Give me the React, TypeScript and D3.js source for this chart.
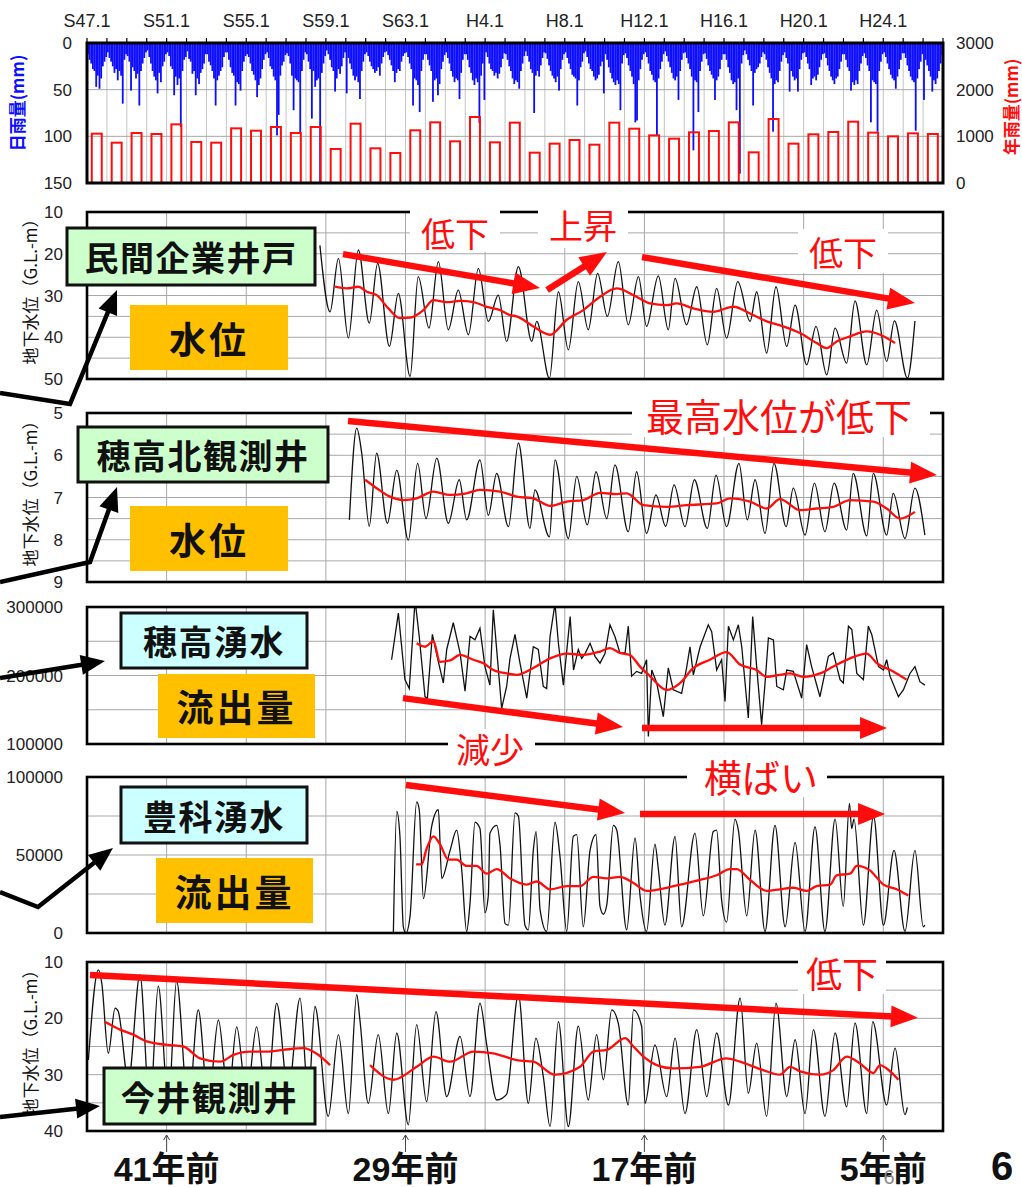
import React from 'react';
import * as d3 from 'd3';

const JP = "'Noto Sans CJK JP', 'Noto Sans', sans-serif";
const LAT = "'Liberation Sans', Arial, 'Noto Sans CJK JP', sans-serif";

// ---- top axis (era labels every 4 years) ----
const eraYears = [1972, 1976, 1980, 1984, 1988, 1992, 1996, 2000, 2004, 2008, 2012];
const eraLabels = ['S47.1', 'S51.1', 'S55.1', 'S59.1', 'S63.1', 'H4.1', 'H8.1', 'H12.1', 'H16.1', 'H20.1', 'H24.1'];

// ---- annual rainfall (mm), 1972-2014 ----
const annualYears = d3.range(1972, 2015);
const annualRain = [1057, 864, 1071, 1050, 1257, 879, 864, 1171, 1121, 1200, 1071, 1200, 729, 1271, 743, 643, 1129, 1300, 893, 1414, 871, 1293,
  650, 843, 921, 821, 1293, 1164, 1021, 950, 1086, 1114, 1300, 657, 1371, 843, 1043, 1093, 1314, 1079, 1000, 1064, 1050];

// ---- largest daily rainfall of each month (mm), Jan..Dec, 1972-2014 ----
const dailyRainMax = [
  [12, 18, 22, 28, 30, 47, 35, 49, 38, 25, 20, 15],
  [10, 16, 20, 25, 32, 28, 40, 30, 35, 65, 18, 12],
  [14, 20, 51, 26, 30, 38, 33, 67, 30, 22, 16, 10],
  [8, 15, 22, 30, 36, 40, 54, 32, 42, 25, 20, 12],
  [10, 14, 25, 28, 56, 36, 45, 38, 90, 30, 18, 15],
  [9, 17, 20, 33, 30, 56, 38, 44, 32, 28, 22, 12],
  [12, 20, 24, 30, 38, 67, 40, 35, 30, 26, 15, 10],
  [10, 18, 26, 32, 35, 67, 42, 44, 51, 30, 20, 14],
  [12, 15, 22, 30, 34, 40, 58, 45, 38, 28, 18, 12],
  [10, 16, 25, 28, 36, 40, 99, 77, 35, 24, 20, 13],
  [11, 14, 22, 35, 72, 38, 40, 42, 97, 30, 18, 10],
  [12, 20, 28, 81, 30, 47, 40, 38, 149, 32, 22, 14],
  [8, 12, 18, 26, 30, 52, 38, 28, 33, 25, 16, 10],
  [54, 16, 22, 28, 35, 40, 36, 42, 60, 30, 20, 12],
  [10, 14, 20, 25, 28, 32, 30, 26, 35, 22, 15, 10],
  [9, 13, 18, 24, 30, 42, 32, 28, 30, 20, 14, 11],
  [10, 15, 22, 28, 67, 38, 40, 45, 74, 30, 18, 12],
  [12, 18, 24, 30, 63, 40, 38, 56, 44, 28, 20, 13],
  [10, 16, 22, 30, 36, 42, 38, 40, 60, 32, 18, 12],
  [12, 18, 26, 32, 40, 45, 38, 42, 86, 35, 22, 61],
  [10, 15, 22, 28, 30, 35, 32, 38, 33, 26, 17, 11],
  [12, 18, 25, 30, 38, 44, 40, 42, 49, 30, 22, 14],
  [9, 14, 20, 28, 32, 75, 35, 30, 36, 24, 16, 10],
  [11, 17, 24, 30, 35, 38, 42, 36, 51, 28, 18, 12],
  [10, 16, 22, 28, 34, 36, 38, 67, 40, 26, 20, 11],
  [9, 15, 22, 28, 30, 36, 40, 38, 34, 25, 20, 54],
  [12, 18, 26, 32, 38, 42, 45, 40, 44, 72, 22, 13],
  [11, 16, 24, 30, 36, 44, 85, 83, 40, 28, 18, 12],
  [10, 15, 22, 30, 34, 40, 42, 99, 38, 28, 20, 12],
  [9, 14, 20, 26, 32, 38, 40, 36, 61, 30, 18, 11],
  [10, 16, 22, 28, 36, 115, 40, 42, 74, 30, 20, 12],
  [11, 17, 24, 30, 34, 38, 61, 40, 36, 28, 18, 12],
  [12, 18, 26, 32, 40, 44, 42, 72, 38, 140, 22, 13],
  [8, 12, 18, 24, 30, 67, 32, 28, 26, 22, 15, 10],
  [12, 18, 26, 32, 38, 95, 44, 40, 42, 30, 20, 13],
  [10, 16, 22, 52, 30, 36, 40, 38, 52, 28, 18, 11],
  [10, 15, 22, 28, 45, 38, 36, 40, 34, 26, 18, 12],
  [11, 16, 24, 30, 36, 40, 44, 38, 36, 28, 20, 12],
  [12, 18, 26, 30, 51, 42, 45, 40, 44, 30, 22, 14],
  [11, 16, 24, 30, 85, 40, 42, 44, 95, 30, 20, 12],
  [10, 15, 22, 28, 34, 38, 40, 49, 36, 28, 18, 11],
  [11, 16, 24, 30, 36, 40, 42, 94, 38, 28, 20, 12],
  [61, 18, 24, 30, 36, 52, 40, 44, 38, 30, 22, 13],
];

type Pt = [number, number];

// ---- 民間企業井戸: groundwater depth (G.L.-m) ----
const minkanLevel: Pt[] = [
  [1983.70, 18.0], [1984.21, 33.9], [1984.63, 21.1], [1985.13, 40.2], [1985.63, 19.1], [1986.18, 36.6], [1986.60, 22.3], [1987.19, 42.2],
  [1987.64, 29.5], [1988.23, 49.4], [1988.64, 25.5], [1989.18, 37.8], [1989.65, 21.9], [1990.15, 38.2], [1990.65, 28.7], [1991.16, 39.4],
  [1991.66, 23.5], [1992.16, 36.2], [1992.66, 29.9], [1993.08, 41.0], [1993.67, 23.1], [1994.34, 41.0], [1994.59, 36.2], [1995.23, 49.8],
  [1995.68, 29.1], [1996.18, 43.0], [1996.68, 26.7], [1997.18, 38.2], [1997.65, 24.7], [1998.14, 35.0], [1998.69, 21.9], [1999.19, 37.0],
  [1999.70, 25.5], [2000.11, 37.4], [2000.70, 25.3], [2001.20, 38.2], [2001.54, 25.9], [2002.12, 37.0], [2002.63, 27.9], [2003.16, 41.8],
  [2003.63, 28.3], [2004.13, 40.2], [2004.69, 26.7], [2005.31, 36.2], [2005.64, 29.1], [2006.14, 43.8], [2006.61, 27.9], [2007.15, 42.2],
  [2007.57, 32.3], [2008.15, 46.6], [2008.62, 37.4], [2009.16, 49.0], [2009.58, 37.8], [2010.16, 46.2], [2010.58, 31.3], [2011.17, 46.6],
  [2011.67, 33.5], [2012.17, 45.8], [2012.56, 36.1], [2013.21, 49.8], [2013.59, 36.1],
];
const minkanAvg: Pt[] = [
  [1984.46, 27.9], [1985.04, 28.3], [1985.63, 27.9], [1986.05, 29.1], [1986.55, 29.9], [1987.14, 33.1], [1987.72, 35.4], [1988.23, 35.3],
  [1988.90, 33.5], [1989.40, 31.1], [1990.07, 31.6], [1990.74, 31.3], [1991.41, 31.6], [1992.08, 32.7], [1992.75, 33.5], [1993.25, 34.7],
  [1993.58, 35.0], [1994.42, 37.4], [1995.26, 39.4], [1996.10, 35.8], [1996.93, 33.5], [1997.77, 30.3], [1998.61, 28.3], [1999.45, 29.9],
  [2000.28, 31.9], [2001.12, 32.3], [2001.62, 31.9], [2002.46, 33.1], [2003.46, 33.9], [2004.47, 32.7], [2005.31, 34.3], [2006.14, 36.2],
  [2006.98, 37.4], [2007.82, 39.0], [2008.65, 41.4], [2009.16, 42.6], [2009.66, 41.0], [2010.33, 39.8], [2011.17, 38.6], [2011.84, 39.4],
  [2012.59, 41.4],
];

// ---- 穂高北観測井: groundwater depth (G.L.-m) ----
const hotakaKitaLevel: Pt[] = [
  [1985.18, 7.53], [1985.55, 5.36], [1985.80, 5.95], [1986.18, 7.68], [1986.55, 5.95], [1987.09, 7.61], [1987.56, 6.35], [1988.14, 8.01],
  [1988.61, 6.19], [1989.03, 7.50], [1989.57, 6.07], [1990.15, 7.61], [1990.70, 6.58], [1991.07, 7.53], [1991.74, 6.11], [1992.16, 7.42],
  [1992.58, 6.43], [1993.17, 7.69], [1993.67, 5.71], [1994.25, 7.73], [1994.50, 6.82], [1995.23, 7.93], [1995.51, 6.11], [1996.18, 7.97],
  [1996.60, 6.50], [1997.13, 7.65], [1997.57, 6.39], [1998.11, 7.50], [1998.52, 6.23], [1999.19, 7.81], [1999.61, 6.39], [2000.11, 7.85],
  [2000.58, 6.94], [2001.07, 7.68], [2001.49, 6.70], [2002.04, 7.69], [2002.51, 6.58], [2003.16, 7.73], [2003.60, 6.47], [2004.13, 7.69],
  [2004.75, 6.19], [2005.17, 7.53], [2005.56, 6.58], [2006.06, 7.85], [2006.51, 6.19], [2007.12, 7.69], [2007.48, 6.78], [2008.07, 7.89],
  [2008.54, 6.66], [2009.07, 7.81], [2009.53, 6.66], [2010.16, 7.77], [2010.49, 6.43], [2011.17, 7.91], [2011.50, 6.43], [2012.17, 7.89],
  [2012.50, 6.90], [2013.09, 7.97], [2013.59, 6.78], [2014.09, 7.89],
];
const hotakaKitaAvg: Pt[] = [
  [1985.97, 6.58], [1986.55, 6.78], [1987.22, 6.98], [1987.89, 7.06], [1988.56, 7.02], [1989.40, 6.86], [1990.24, 6.94], [1991.07, 6.90],
  [1991.74, 6.82], [1992.75, 6.86], [1993.58, 6.98], [1994.42, 7.02], [1995.26, 7.20], [1996.10, 7.10], [1996.93, 7.06], [1997.77, 6.89],
  [1998.61, 6.92], [1999.11, 6.90], [1999.95, 7.18], [2001.12, 7.22], [2002.12, 7.18], [2003.63, 7.14], [2004.30, 7.02], [2005.31, 7.10],
  [2006.14, 7.26], [2006.81, 7.04], [2007.82, 7.30], [2008.65, 7.26], [2009.49, 7.22], [2010.33, 7.06], [2011.50, 7.10], [2012.17, 7.26],
  [2012.84, 7.50], [2013.59, 7.34],
];

// ---- 穂高湧水: spring discharge ----
const hotakaSpring: Pt[] = [
  [1987.30, 223000], [1987.64, 291000], [1987.97, 194000], [1988.19, 181000], [1988.48, 310000], [1988.69, 257000], [1988.98, 169000],
  [1989.10, 167000], [1989.35, 260000], [1989.57, 230000], [1989.90, 189000], [1990.07, 238000], [1990.40, 277000], [1990.74, 233000],
  [1990.99, 177000], [1991.24, 257000], [1991.49, 252000], [1991.74, 269000], [1991.99, 213000], [1992.24, 186000], [1992.41, 296000],
  [1992.83, 152000], [1993.08, 184000], [1993.25, 225000], [1993.50, 260000], [1993.75, 218000], [1994.09, 167000], [1994.42, 242000],
  [1994.67, 238000], [1994.92, 184000], [1995.09, 181000], [1995.26, 257000], [1995.51, 305000], [1995.68, 247000], [1995.93, 186000],
  [1996.27, 286000], [1996.44, 208000], [1996.68, 238000], [1996.85, 225000], [1997.02, 232000], [1997.27, 247000], [1997.52, 228000],
  [1997.77, 218000], [1998.02, 232000], [1998.27, 274000], [1998.52, 257000], [1998.77, 233000], [1999.03, 233000], [1999.19, 272000],
  [1999.36, 199000], [1999.61, 206000], [1999.86, 203000], [2000.11, 223000], [2000.20, 111000], [2000.37, 208000], [2000.62, 189000],
  [2000.95, 140000], [2001.20, 211000], [2001.45, 179000], [2001.87, 174000], [2002.12, 211000], [2002.29, 242000], [2002.46, 201000],
  [2002.80, 242000], [2003.21, 274000], [2003.38, 264000], [2003.63, 208000], [2003.88, 223000], [2004.05, 162000], [2004.22, 272000],
  [2004.47, 252000], [2004.72, 274000], [2004.89, 242000], [2005.22, 138000], [2005.44, 286000], [2005.64, 213000], [2005.89, 128000],
  [2006.06, 189000], [2006.23, 255000], [2006.48, 252000], [2006.65, 184000], [2006.98, 179000], [2007.15, 208000], [2007.48, 206000],
  [2007.90, 167000], [2008.15, 245000], [2008.40, 213000], [2008.82, 169000], [2009.24, 228000], [2009.49, 233000], [2009.83, 194000],
  [2009.99, 189000], [2010.25, 272000], [2010.42, 267000], [2010.67, 203000], [2011.00, 194000], [2011.25, 272000], [2011.42, 260000],
  [2011.76, 213000], [2012.01, 208000], [2012.17, 223000], [2012.34, 199000], [2012.76, 169000], [2013.01, 179000], [2013.34, 203000],
  [2013.59, 213000], [2013.84, 191000], [2014.09, 186000],
];
const hotakaSpringAvg: Pt[] = [
  [1988.56, 247000], [1988.98, 242000], [1989.40, 250000], [1989.73, 220000], [1990.24, 222000], [1990.74, 230000], [1991.41, 223000],
  [1991.91, 218000], [1992.41, 208000], [1993.08, 203000], [1993.58, 201000], [1994.42, 211000], [1995.26, 225000], [1996.10, 232000],
  [1996.93, 230000], [1997.77, 235000], [1998.27, 240000], [1998.77, 233000], [1999.27, 230000], [1999.78, 213000], [2000.28, 199000],
  [2001.12, 179000], [2001.79, 189000], [2002.46, 211000], [2003.29, 223000], [2004.13, 234000], [2004.80, 216000], [2005.64, 208000],
  [2006.14, 198000], [2006.81, 201000], [2007.32, 203000], [2007.99, 198000], [2008.82, 203000], [2009.49, 213000], [2010.33, 225000],
  [2011.17, 232000], [2011.67, 218000], [2012.50, 206000], [2013.17, 194000],
];

// ---- 豊科湧水: spring discharge ----
const toyoshinaSpring: Pt[] = [
  [1987.39, 0], [1987.56, 78000], [1987.72, 62000], [1987.89, 4000], [1988.02, 0], [1988.23, 11000], [1988.56, 84000], [1988.69, 79000],
  [1988.90, 22000], [1989.31, 68000], [1989.65, 79000], [1989.82, 35000], [1990.24, 53000], [1990.57, 66000], [1990.82, 41000],
  [1991.07, 1000], [1991.24, 19000], [1991.49, 71000], [1991.74, 67000], [1991.99, 13000], [1992.16, 24000], [1992.24, 64000],
  [1992.58, 69000], [1992.75, 56000], [1993.00, 6000], [1993.17, 5000], [1993.50, 77000], [1993.67, 75000], [1994.00, 5000],
  [1994.17, 2000], [1994.42, 53000], [1994.56, 65000], [1994.76, 15000], [1995.09, 1000], [1995.51, 71000], [1995.76, 49000],
  [1996.10, 1000], [1996.43, 62000], [1996.60, 63000], [1996.93, 4000], [1997.27, 53000], [1997.57, 63000], [1997.77, 17000],
  [1997.94, 12000], [1998.11, 18000], [1998.44, 69000], [1998.61, 66000], [1999.11, 2000], [1999.53, 61000], [1999.78, 24000],
  [2000.11, 1000], [2000.53, 57000], [2000.70, 41000], [2001.03, 5000], [2001.54, 62000], [2001.87, 4000], [2002.54, 64000],
  [2002.96, 11000], [2003.46, 65000], [2003.63, 66000], [2003.88, 21000], [2004.13, 7000], [2004.55, 73000], [2004.72, 66000],
  [2005.14, 11000], [2005.56, 66000], [2006.06, 1000], [2006.56, 69000], [2007.07, 4000], [2007.57, 58000], [2008.07, 1000],
  [2008.57, 68000], [2009.07, 1000], [2009.58, 73000], [2009.99, 17000], [2010.30, 83000], [2010.41, 67000], [2010.53, 73000],
  [2011.00, 5000], [2011.51, 75000], [2012.01, 5000], [2012.54, 53000], [2013.09, 1000], [2013.59, 53000], [2014.01, 4000], [2014.09, 5000],
];
const toyoshinaSpringAvg: Pt[] = [
  [1988.53, 44000], [1988.81, 44000], [1989.06, 54000], [1989.40, 62000], [1989.73, 57000], [1990.15, 47000], [1990.57, 47000],
  [1991.07, 43000], [1991.57, 43000], [1992.08, 38000], [1992.58, 41000], [1993.25, 35000], [1994.09, 31000], [1994.59, 33000],
  [1995.26, 28000], [1996.10, 30000], [1996.77, 30000], [1997.44, 36000], [1998.11, 35000], [1998.78, 36000], [1999.45, 32000],
  [2000.11, 27000], [2001.12, 29000], [2001.79, 31000], [2002.80, 34000], [2003.63, 37000], [2004.30, 41000], [2004.64, 41000],
  [2005.31, 34000], [2006.14, 27000], [2006.81, 28000], [2007.48, 29000], [2008.15, 27000], [2008.65, 30000], [2009.33, 31000],
  [2009.66, 37000], [2010.33, 38000], [2010.67, 43000], [2011.34, 40000], [2012.01, 31000], [2012.67, 28000], [2013.26, 24000],
];

// ---- 今井観測井: groundwater depth (G.L.-m) ----
const imaiLevel: Pt[] = [
  [1972.07, 27.4], [1972.57, 11.4], [1972.74, 13.7], [1973.07, 26.2], [1973.41, 18.2], [1973.57, 18.8], [1974.08, 31.0], [1974.66, 12.3],
  [1975.16, 36.0], [1975.58, 14.3], [1976.09, 35.0], [1976.50, 13.4], [1977.09, 36.0], [1977.59, 18.5], [1978.10, 35.0], [1978.60, 20.3],
  [1979.10, 34.0], [1979.52, 21.5], [1980.02, 34.0], [1980.52, 21.5], [1981.03, 35.0], [1981.53, 17.3], [1982.11, 33.0], [1982.70, 16.4],
  [1983.12, 34.0], [1983.45, 17.9], [1984.12, 37.4], [1984.63, 22.9], [1985.13, 36.9], [1985.55, 15.8], [1985.71, 20.3], [1986.13, 35.1],
  [1986.63, 22.9], [1987.14, 36.9], [1987.56, 22.6], [1988.14, 38.9], [1988.56, 21.1], [1989.06, 34.8], [1989.53, 18.8], [1990.07, 33.9],
  [1990.74, 23.2], [1991.24, 33.9], [1991.74, 17.3], [1992.08, 24.7], [1992.58, 34.5], [1993.08, 33.5], [1993.67, 15.8], [1994.17, 35.1],
  [1994.55, 23.5], [1994.92, 30.3], [1995.26, 39.2], [1995.68, 20.6], [1996.18, 39.2], [1996.68, 21.4], [1997.18, 34.5], [1997.60, 22.9],
  [1997.94, 30.9], [1998.36, 18.5], [1998.69, 20.9], [1999.19, 35.4], [1999.45, 18.5], [1999.86, 21.4], [2000.03, 35.1], [2000.53, 24.7],
  [2001.12, 33.9], [2001.54, 23.5], [2002.04, 36.9], [2002.63, 22.0], [2003.13, 33.9], [2003.63, 22.6], [2004.22, 35.4], [2004.81, 16.4],
  [2005.22, 33.3], [2005.64, 24.4], [2006.14, 37.4], [2006.61, 17.3], [2007.15, 33.9], [2007.57, 23.8], [2008.07, 36.9], [2008.49, 22.0],
  [2009.07, 37.4], [2009.58, 22.6], [2010.16, 35.7], [2010.58, 20.8], [2011.17, 36.9], [2011.47, 20.6], [2012.17, 35.4], [2012.59, 25.3],
  [2013.09, 37.1], [2013.21, 35.8],
];
const imaiAvgEarly: Pt[] = [
  [1972.90, 20.6], [1973.66, 22.0], [1974.33, 22.9], [1975.00, 24.1], [1976.00, 24.7], [1976.84, 25.0], [1977.68, 27.1], [1978.68, 27.7],
  [1979.35, 26.5], [1980.19, 25.9], [1981.03, 25.9], [1981.86, 25.6], [1982.87, 25.3], [1983.54, 26.3], [1984.21, 28.3],
];
const imaiAvgLate: Pt[] = [
  [1986.22, 28.3], [1987.39, 30.9], [1988.56, 28.6], [1989.40, 26.8], [1990.24, 27.7], [1991.41, 25.9], [1992.41, 26.2], [1993.58, 27.4],
  [1994.42, 27.7], [1995.51, 30.0], [1996.77, 28.6], [1997.44, 25.9], [1998.11, 25.6], [1999.03, 23.5], [1999.45, 25.0], [1999.95, 26.8],
  [2000.62, 28.3], [2001.45, 28.9], [2002.80, 28.6], [2004.13, 27.1], [2004.80, 27.7], [2005.97, 29.2], [2006.81, 30.0], [2007.32, 28.6],
  [2007.82, 29.4], [2008.82, 30.0], [2009.49, 29.2], [2010.16, 26.8], [2010.83, 28.0], [2011.50, 29.7], [2011.84, 28.3], [2012.17, 28.9],
  [2012.76, 30.9],
];

// trend arrows, in (year, value) of their panel
const trendMinkan: Pt[][] = [
  [[1984.86, 20.1], [1994.76, 28.2]],
  [[1995.11, 28.7], [1998.12, 19.6]],
  [[1999.88, 20.8], [2013.59, 31.8]],
];
const trendHotakaKita: Pt[][] = [[[1985.11, 5.19], [2014.70, 6.47]]];
const trendHotakaSpring: Pt[][] = [
  [[1987.87, 167000], [1998.93, 124800]],
  [[1999.88, 123400], [2012.19, 123400]],
];
const trendToyoshina: Pt[][] = [
  [[1988.02, 94900], [1999.03, 77000]],
  [[1999.78, 76300], [2012.09, 76300]],
];
const trendImai: Pt[][] = [[[1972.15, 12.3], [2013.74, 19.9]]];

// "years ago" marks under the last panel
const agoYears = [1976, 1988, 2000, 2012];
const agoLabels = ['41年前', '29年前', '17年前', '5年前'];

const RED = '#ff0d0d';
const BLUE = '#0d0dff';
const GRID = '#a8a8a8';

function ArrowShape({ pts, color, width, head, half }: { pts: Pt[]; color: string; width: number; head: number; half: number }) {
  const n = pts.length;
  const [ax, ay] = pts[n - 2];
  const [bx, by] = pts[n - 1];
  const len = Math.hypot(bx - ax, by - ay);
  const ux = (bx - ax) / len;
  const uy = (by - ay) / len;
  const baseX = bx - ux * head;
  const baseY = by - uy * head;
  const shaft: Pt[] = [...pts.slice(0, n - 1), [baseX + ux * 2, baseY + uy * 2]];
  const tri = `${bx},${by} ${baseX - uy * half},${baseY + ux * half} ${baseX + uy * half},${baseY - ux * half}`;
  return (
    <g>
      <polyline points={shaft.map((p) => p.join(',')).join(' ')} fill="none" stroke={color} strokeWidth={width} strokeLinejoin="miter" />
      <polygon points={tri} fill={color} />
    </g>
  );
}

type PanelSpec = {
  id: string;
  top: number;
  bottom: number;
  domain: [number, number];
  depth: boolean;
  grid: number;
  tick: number;
  series: Pt[];
  avgs: Pt[][];
  trends: Pt[][];
  yTitle: boolean;
  linear?: boolean;
};

const panels: PanelSpec[] = [
  { id: 'p1', top: 212, bottom: 379, domain: [10, 50], depth: true, grid: 5, tick: 10, series: minkanLevel, avgs: [minkanAvg], trends: trendMinkan, yTitle: true },
  { id: 'p2', top: 413, bottom: 582, domain: [5, 9], depth: true, grid: 0.5, tick: 1, series: hotakaKitaLevel, avgs: [hotakaKitaAvg], trends: trendHotakaKita, yTitle: true },
  { id: 'p3', top: 607, bottom: 744, domain: [100000, 300000], depth: false, grid: 50000, tick: 100000, series: hotakaSpring, avgs: [hotakaSpringAvg], trends: trendHotakaSpring, yTitle: false, linear: true },
  { id: 'p4', top: 777, bottom: 933, domain: [0, 100000], depth: false, grid: 25000, tick: 50000, series: toyoshinaSpring, avgs: [toyoshinaSpringAvg], trends: trendToyoshina, yTitle: false },
  { id: 'p5', top: 962, bottom: 1131, domain: [10, 40], depth: true, grid: 5, tick: 10, series: imaiLevel, avgs: [imaiAvgEarly, imaiAvgLate], trends: trendImai, yTitle: true },
];

const X0 = 87;
const X1 = 943;

function Panel({ p, x }: { p: PanelSpec; x: d3.ScaleLinear<number, number> }) {
  const y = d3.scaleLinear().domain(p.domain).range(p.depth ? [p.top, p.bottom] : [p.bottom, p.top]);
  const gridVals = d3.range(p.domain[0] + p.grid, p.domain[1] - p.grid / 2, p.grid);
  const tickVals = d3.range(p.domain[0], p.domain[1] + p.tick / 2, p.tick);
  const vGrid = d3.range(1976, 2015, 4);
  const line = d3.line<Pt>().x((d) => x(d[0])).y((d) => y(d[1])).curve(p.linear ? d3.curveLinear : d3.curveMonotoneX);
  const mid = (p.top + p.bottom) / 2;
  return (
    <g>
      <defs>
        <clipPath id={`clip-${p.id}`}>
          <rect x={X0} y={p.top} width={X1 - X0} height={p.bottom - p.top} />
        </clipPath>
      </defs>
      {gridVals.map((v) => (
        <line key={`h${v}`} x1={X0} x2={X1} y1={y(v)} y2={y(v)} stroke={GRID} strokeWidth={1} />
      ))}
      {vGrid.map((v) => (
        <line key={`v${v}`} x1={x(v)} x2={x(v)} y1={p.top} y2={p.bottom} stroke={GRID} strokeWidth={1} />
      ))}
      <g clipPath={`url(#clip-${p.id})`}>
        <path d={line(p.series) || ''} fill="none" stroke="#111" strokeWidth={1.3} />
        {p.avgs.map((a, i) => (
          <path key={i} d={d3.line<Pt>().x((d) => x(d[0])).y((d) => y(d[1])).curve(d3.curveMonotoneX)(a) || ''} fill="none" stroke={RED} strokeWidth={2.3} />
        ))}
      </g>
      <rect x={X0} y={p.top} width={X1 - X0} height={p.bottom - p.top} fill="none" stroke="#000" strokeWidth={2.6} />
      {tickVals.map((v) => (
        <text key={`t${v}`} x={63} y={y(v)} dy="0.36em" textAnchor="end" fontFamily={LAT} fontSize={17} fill="#222">
          {d3.format('d')(v)}
        </text>
      ))}
      {p.yTitle && (
        <text transform={`translate(31,${mid - 8}) rotate(-90)`} textAnchor="middle" dy="0.35em" fontFamily={JP} fontSize={17} fill="#111">
          地下水位（G.L.-m）
        </text>
      )}
    </g>
  );
}

function TrendArrows({ p, x }: { p: PanelSpec; x: d3.ScaleLinear<number, number> }) {
  const y = d3.scaleLinear().domain(p.domain).range(p.depth ? [p.top, p.bottom] : [p.bottom, p.top]);
  return (
    <g>
      {p.trends.map((t, i) => (
        <ArrowShape key={i} pts={t.map((d) => [x(d[0]), y(d[1])] as Pt)} color={RED} width={6.5} head={27} half={11} />
      ))}
    </g>
  );
}

function RedLabel({ cx, cy, text, size, box }: { cx: number; cy: number; text: string; size: number; box: [number, number, number, number] }) {
  return (
    <g>
      <rect x={box[0]} y={box[1]} width={box[2] - box[0]} height={box[3] - box[1]} fill="#fff" />
      <text x={cx} y={cy} textAnchor="middle" dominantBaseline="central" fontFamily={JP} fontSize={size} fill={RED}>
        {text}
      </text>
    </g>
  );
}

const boxes = [
  { x: 67, y: 228, w: 248, h: 57, fill: '#ccffcc', text: '民間企業井戸', border: true },
  { x: 130, y: 305, w: 158, h: 65, fill: '#ffc000', text: '水位', border: false },
  { x: 78, y: 427, w: 250, h: 55, fill: '#ccffcc', text: '穂高北観測井', border: true },
  { x: 130, y: 506, w: 158, h: 65, fill: '#ffc000', text: '水位', border: false },
  { x: 121, y: 613, w: 186, h: 55, fill: '#ccffff', text: '穂高湧水', border: true },
  { x: 158, y: 674, w: 157, h: 64, fill: '#ffc000', text: '流出量', border: false },
  { x: 121, y: 787, w: 186, h: 56, fill: '#ccffff', text: '豊科湧水', border: true },
  { x: 156, y: 858, w: 157, h: 65, fill: '#ffc000', text: '流出量', border: false },
  { x: 104, y: 1068, w: 211, h: 56, fill: '#ccffcc', text: '今井観測井', border: true },
];

const pointers: Pt[][] = [
  [[0, 393], [70, 404], [117, 290]],
  [[0, 582], [90, 562], [117, 487]],
  [[0, 678], [105, 661]],
  [[0, 892], [38, 907], [113, 848]],
  [[0, 1117], [100, 1106]],
];

export default function App() {
  const x = d3.scaleLinear().domain([1972, 2015]).range([X0, X1]);
  const topT = 43;
  const topB = 183;
  const yDaily = d3.scaleLinear().domain([0, 150]).range([topT, topB]);
  const yAnnual = d3.scaleLinear().domain([0, 3000]).range([topB, topT]);
  const monthW = x(1972 + 1 / 12) - x(1972);
  const years = d3.range(1972, 2016);

  return (
    <svg width={1022} height={1187} style={{ position: 'absolute', left: 0, top: 0 }} xmlns="http://www.w3.org/2000/svg">
      <rect x={0} y={0} width={1022} height={1187} fill="#fff" />

      {/* ---------- rainfall panel ---------- */}
      {years.slice(1, -1).map((yr) => (
        <line key={`yg${yr}`} x1={x(yr)} x2={x(yr)} y1={topT} y2={topB} stroke="#c4c4c4" strokeWidth={1} />
      ))}
      {[50, 100].map((v) => (
        <line key={`dg${v}`} x1={X0} x2={X1} y1={yDaily(v)} y2={yDaily(v)} stroke={GRID} strokeWidth={1} />
      ))}
      <g>
        {dailyRainMax.map((row, i) =>
          row.map((v, m) => {
            const t = 1972 + i + m / 12;
            return <rect key={`d${i}-${m}`} x={x(t)} y={yDaily(0)} width={monthW + 0.15} height={yDaily(v) - yDaily(0)} fill={BLUE} />;
          })
        )}
      </g>
      {annualYears.map((yr, i) => (
        <rect key={`a${yr}`} x={x(yr + 0.24)} y={yAnnual(annualRain[i])} width={x(yr + 0.74) - x(yr + 0.24)} height={yAnnual(0) - yAnnual(annualRain[i])} fill="none" stroke={RED} strokeWidth={2} />
      ))}
      <rect x={X0} y={topT} width={X1 - X0} height={topB - topT} fill="none" stroke="#000" strokeWidth={3} />
      {years.map((yr) => (
        <line key={`tk${yr}`} x1={x(yr)} x2={x(yr)} y1={topT} y2={topT - 5} stroke="#000" strokeWidth={1.2} />
      ))}
      {eraYears.map((yr, i) => (
        <text key={`e${yr}`} x={x(yr)} y={27} textAnchor="middle" fontFamily={LAT} fontSize={18} fill="#222">
          {eraLabels[i]}
        </text>
      ))}
      {[0, 50, 100, 150].map((v) => (
        <text key={`dl${v}`} x={72} y={yDaily(v)} dy="0.36em" textAnchor="end" fontFamily={LAT} fontSize={17} fill="#222">
          {v}
        </text>
      ))}
      {[0, 1000, 2000, 3000].map((v) => (
        <text key={`al${v}`} x={956} y={yAnnual(v)} dy="0.36em" textAnchor="start" fontFamily={LAT} fontSize={17} fill="#222">
          {v}
        </text>
      ))}
      <text transform="translate(18,103) rotate(-90)" textAnchor="middle" dy="0.35em" fontFamily={JP} fontWeight={700} fontSize={17} fill={BLUE}>
        日雨量(mm)
      </text>
      <text transform="translate(1012,107) rotate(-90)" textAnchor="middle" dy="0.35em" fontFamily={JP} fontWeight={700} fontSize={17} fill={RED}>
        年雨量(mm)
      </text>

      {/* ---------- water level / discharge panels ---------- */}
      {panels.map((p) => (
        <Panel key={p.id} p={p} x={x} />
      ))}

      {/* trend labels */}
      <RedLabel cx={455} cy={232} text="低下" size={34} box={[410, 204, 500, 252]} />
      <RedLabel cx={583} cy={224} text="上昇" size={34} box={[538, 200, 628, 248]} />
      <RedLabel cx={843} cy={251} text="低下" size={34} box={[798, 229, 888, 273]} />
      <RedLabel cx={779} cy={414} text="最高水位が低下" size={38} box={[632, 394, 930, 437]} />
      <RedLabel cx={490} cy={748} text="減少" size={34} box={[448, 729, 535, 768]} />
      <RedLabel cx={761} cy={775} text="横ばい" size={38} box={[687, 752, 827, 797]} />
      <RedLabel cx={842} cy={972} text="低下" size={36} box={[798, 952, 886, 994]} />

      {panels.map((p) => (
        <TrendArrows key={`tr-${p.id}`} p={p} x={x} />
      ))}

      {/* site / quantity boxes */}
      {boxes.map((b, i) => (
        <g key={`b${i}`}>
          <rect x={b.x} y={b.y} width={b.w} height={b.h} fill={b.fill} stroke={b.border ? '#111' : 'none'} strokeWidth={3} />
          <text x={b.x + b.w / 2} y={b.y + b.h / 2} textAnchor="middle" dominantBaseline="central" fontFamily={JP} fontWeight={700} fontSize={b.border ? 34 : 37} letterSpacing={b.border ? 1.5 : 3} fill="#111">
            {b.text}
          </text>
        </g>
      ))}
      {pointers.map((pts, i) => (
        <ArrowShape key={`pt${i}`} pts={pts} color="#000" width={4.5} head={24} half={10} />
      ))}

      {/* years-ago marks */}
      {agoYears.map((yr, i) => (
        <g key={`ago${yr}`}>
          <line x1={x(yr)} x2={x(yr)} y1={1152} y2={1135} stroke="#444" strokeWidth={1} />
          <path d={`M${x(yr) - 3},${1140} L${x(yr)},${1135} L${x(yr) + 3},${1140}`} fill="none" stroke="#444" strokeWidth={1} />
          <text x={x(yr)} y={1181} textAnchor="middle" fontFamily={LAT} fontWeight={700} fontSize={34} fill="#111">
            {agoLabels[i]}
          </text>
        </g>
      ))}
      <text x={889} y={1184} textAnchor="middle" fontFamily={LAT} fontSize={20} fill="#8a8a8a">6</text>
      <text x={1002} y={1180} textAnchor="middle" fontFamily={LAT} fontWeight={700} fontSize={40} fill="#111">6</text>
    </svg>
  );
}
